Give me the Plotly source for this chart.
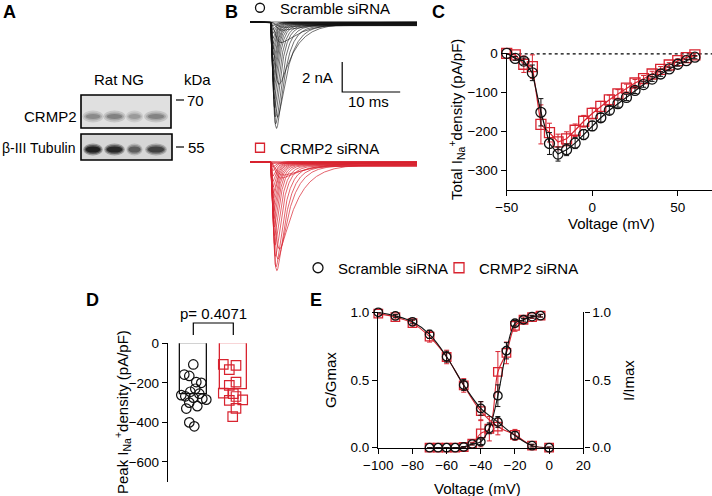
import numpy as np
import plotly.graph_objects as go

W, H = 712, 496
def fx(px): return px / W
def fy(py): return 1 - py / H

FONT = "Liberation Sans, Arial, sans-serif"
RED = "#d8232f"
BLACK = "#111111"

# ---------------- data ----------------
# Panel C: current-voltage relation (pA/pF)
iv_voltage = list(range(-50, 65, 5))
iv_scramble = [0, -13, -20, -50, -151, -231, -258, -247, -230, -208, -186, -165,
               -146, -129, -113, -95, -80, -66, -53, -40, -28, -19, -10]
iv_scramble_err = [2, 5, 8, 20, 35, 28, 18, 15, 14, 13, 12, 11, 10, 9, 8, 8, 7, 6, 6, 5, 5, 4, 4]
iv_crmp2 = [0, -4, -28, -34, -182, -203, -227, -219, -197, -174, -154, -136,
            -119, -104, -89, -76, -65, -53, -41, -30, -19, -11, -4]
iv_crmp2_err = [2, 5, 21, 30, 50, 24, 20, 18, 16, 15, 14, 13, 12, 11, 10, 9, 8, 7, 7, 6, 5, 5, 4]

# Panel B: example sweeps (kinetics per test potential, ms) and cell capacitance (pF)
sweep_tau_m = [0.9, 0.8, 0.7, 0.62, 0.55, 0.5, 0.45, 0.4, 0.36, 0.33, 0.3, 0.28,
               0.26, 0.25, 0.24, 0.23, 0.22, 0.21, 0.2, 0.2, 0.19, 0.19, 0.18]
sweep_tau_h = [7.0, 6.0, 5.0, 4.0, 2.6, 1.8, 1.4, 1.2, 1.05, 0.95, 0.85, 0.78,
               0.72, 0.68, 0.64, 0.6, 0.57, 0.55, 0.53, 0.52, 0.5, 0.5, 0.5]
sweep_persistent_scramble = 0.012
sweep_persistent_crmp2 = 0.016
cm_scramble_pF = 27.5
cm_crmp2_pF = 32.0
step_onset_ms = 3.5
trace_duration_ms = 28.8
scale_bar_nA = 2
scale_bar_ms = 10

# Panel D: peak current density (pA/pF)
peak_groups = ["Scramble siRNA", "CRMP2 siRNA"]
peak_means = [-258, -235]
peak_scramble = [-107, -158, -165, -196, -200, -230, -245, -255, -262, -268, -275,
                 -280, -285, -300, -318, -330, -400, -420]
peak_scramble_jitter = [0, -9, -4, 3, 8, 2, -3, 6, -12, -8, 0, 9, 13, -4, 4, -7, -4, 1]
peak_crmp2 = [-107, -112, -133, -196, -213, -252, -255, -269, -286, -289, -329, -371]
peak_crmp2_jitter = [-10, 2.7, -4, 2.7, -4, -10, 0, 2.7, 9.4, -4, 2.7, -0.6]
p_value_text = "p= 0.4071"

# Panel E: activation (G/Gmax) and steady-state inactivation (I/Imax)
act_voltage = list(range(-70, 0, 5))
act_scramble = [0, 0, 0, 0, 0.005, 0.027, 0.044, 0.143, 0.384, 0.716, 0.919, 0.945, 0.968, 0.975]
act_scramble_err = [0, 0, 0, 0, 0.003, 0.006, 0.02, 0.04, 0.08, 0.06, 0.02, 0.01, 0.01, 0.01]
act_crmp2 = [0, 0, 0, 0, 0.005, 0.03, 0.106, 0.14, 0.56, 0.70, 0.90, 0.945, 0.965, 0.975]
act_crmp2_err = [0, 0, 0, 0, 0.003, 0.01, 0.1, 0.09, 0.15, 0.08, 0.04, 0.02, 0.01, 0.01]
inact_voltage = list(range(-100, 10, 10))
inact_scramble = [1.0, 0.973, 0.93, 0.837, 0.672, 0.463, 0.29, 0.19, 0.089, 0.015, 0.0]
inact_scramble_err = [0.005, 0.01, 0.015, 0.03, 0.04, 0.04, 0.05, 0.04, 0.03, 0.01, 0.005]
inact_crmp2 = [0.99, 0.965, 0.92, 0.82, 0.67, 0.46, 0.27, 0.155, 0.095, 0.015, 0.0]
inact_crmp2_err = [0.01, 0.015, 0.02, 0.04, 0.05, 0.05, 0.07, 0.06, 0.04, 0.01, 0.005]

# Panel A: western blot band intensities (0..1)
crmp2_band_intensity = [0.55, 0.62, 0.42, 0.6]
tubulin_band_intensity = [1.0, 0.92, 0.52, 0.7]
blot_lane_label = "Rat NG"

fig = go.Figure()

# ---------------- Panel B: sweeps ----------------
t = np.linspace(0, trace_duration_ms, 1400)
def sweep(amp_nA, tm, th, persist):
    tt = np.clip(t - step_onset_ms, 0, None)
    act = (1 - np.exp(-tt / tm)) ** 3
    g = act * ((1 - persist) * np.exp(-tt / th) + persist)
    m = g.max()
    if m > 0:
        g = g / m
    return -amp_nA * g

for dens, tm, th in zip(iv_scramble, sweep_tau_m, sweep_tau_h):
    fig.add_trace(go.Scatter(x=t, y=sweep(-dens * cm_scramble_pF / 1000, tm, th, sweep_persistent_scramble),
                             mode="lines", line=dict(color=BLACK, width=0.6),
                             xaxis="x", yaxis="y", showlegend=False, hoverinfo="skip"))
for dens, tm, th in zip(iv_crmp2, sweep_tau_m, sweep_tau_h):
    fig.add_trace(go.Scatter(x=t, y=sweep(-dens * cm_crmp2_pF / 1000, tm, th * 1.15, sweep_persistent_crmp2),
                             mode="lines", line=dict(color=RED, width=0.7),
                             xaxis="x2", yaxis="y2", showlegend=False, hoverinfo="skip"))

# legends for panel B
fig.add_trace(go.Scatter(x=[None], y=[None], mode="markers", name="Scramble siRNA",
                         marker=dict(symbol="circle-open", size=9, color=BLACK, line=dict(width=1.3)),
                         legend="legend2", xaxis="x", yaxis="y"))
fig.add_trace(go.Scatter(x=[None], y=[None], mode="markers", name="CRMP2 siRNA",
                         marker=dict(symbol="square-open", size=9, color=RED, line=dict(width=1.3)),
                         legend="legend3", xaxis="x", yaxis="y"))

# ---------------- Panel C: I-V ----------------
fig.add_trace(go.Scatter(x=iv_voltage, y=iv_crmp2, mode="lines+markers",
                         line=dict(color=RED, width=1.2),
                         marker=dict(symbol="square-open", size=10, color=RED, line=dict(width=1.3)),
                         error_y=dict(type="data", array=iv_crmp2_err, color=RED, thickness=1, width=2.5),
                         xaxis="x3", yaxis="y3", showlegend=False, cliponaxis=False))
fig.add_trace(go.Scatter(x=iv_voltage, y=iv_scramble, mode="lines+markers",
                         line=dict(color=BLACK, width=1.2),
                         marker=dict(symbol="circle-open", size=10, color=BLACK, line=dict(width=1.3)),
                         error_y=dict(type="data", array=iv_scramble_err, color=BLACK, thickness=1, width=2.5),
                         xaxis="x3", yaxis="y3", showlegend=False, cliponaxis=False))

# main legend
fig.add_trace(go.Scatter(x=[None], y=[None], mode="markers", name="Scramble siRNA",
                         marker=dict(symbol="circle-open", size=10, color=BLACK, line=dict(width=1.3)),
                         legend="legend", xaxis="x3", yaxis="y3"))
fig.add_trace(go.Scatter(x=[None], y=[None], mode="markers", name="CRMP2 siRNA",
                         marker=dict(symbol="square-open", size=10, color=RED, line=dict(width=1.3)),
                         legend="legend4", xaxis="x3", yaxis="y3"))

# ---------------- Panel D: peak density ----------------
px_per_unit_D = 40.0
fig.add_trace(go.Bar(x=[0, 1], y=peak_means, width=0.67,
                     marker=dict(color="rgba(255,255,255,0)", line=dict(color=[BLACK, RED], width=1.3)),
                     xaxis="x4", yaxis="y4", showlegend=False))
fig.add_trace(go.Scatter(x=[0 + j / px_per_unit_D for j in peak_scramble_jitter], y=peak_scramble,
                         mode="markers",
                         marker=dict(symbol="circle-open", size=9.5, color=BLACK, line=dict(width=1.2)),
                         xaxis="x4", yaxis="y4", showlegend=False, cliponaxis=False))
fig.add_trace(go.Scatter(x=[1 + j / px_per_unit_D for j in peak_crmp2_jitter], y=peak_crmp2,
                         mode="markers",
                         marker=dict(symbol="square-open", size=9.5, color=RED, line=dict(width=1.2)),
                         xaxis="x4", yaxis="y4", showlegend=False, cliponaxis=False))

# ---------------- Panel E: activation / inactivation ----------------
def e_trace(x, y, err, color, symbol, yaxis):
    return go.Scatter(x=x, y=y, mode="lines+markers", line=dict(color=color, width=1.1, shape="spline"),
                      marker=dict(symbol=symbol, size=8.5, color=color, line=dict(width=1.3)),
                      error_y=dict(type="data", array=err, color=color, thickness=1, width=2.5),
                      xaxis="x5", yaxis=yaxis, showlegend=False, cliponaxis=False)

fig.add_trace(e_trace(inact_voltage, inact_crmp2, inact_crmp2_err, RED, "square-open", "y6"))
fig.add_trace(e_trace(inact_voltage, inact_scramble, inact_scramble_err, BLACK, "circle-open", "y6"))
fig.add_trace(e_trace(act_voltage, act_crmp2, act_crmp2_err, RED, "square-open", "y5"))
fig.add_trace(e_trace(act_voltage, act_scramble, act_scramble_err, BLACK, "circle-open", "y5"))

# ---------------- axes ----------------
tickfont = dict(family=FONT, size=13.5, color="black")
axis_common = dict(showline=True, linecolor="black", linewidth=1.4, ticks="outside",
                   ticklen=5, tickwidth=1.4, tickcolor="black", showgrid=False,
                   zeroline=False, tickfont=tickfont, automargin=False)

layout = dict(
    width=W, height=H, margin=dict(l=0, r=0, t=0, b=0, pad=0, autoexpand=False),
    paper_bgcolor="white", plot_bgcolor="rgba(0,0,0,0)",
    font=dict(family=FONT, size=15, color="black"),
    bargap=0,
    xaxis=dict(domain=[fx(250), fx(417)], range=[0, trace_duration_ms], visible=False, anchor="y"),
    yaxis=dict(domain=[fy(140), fy(10)], range=[-118 / 15, 12 / 15], visible=False, anchor="x"),
    xaxis2=dict(domain=[fx(250), fx(417)], range=[0, trace_duration_ms], visible=False, anchor="y2"),
    yaxis2=dict(domain=[fy(280), fy(150)], range=[-(280 - 161.7) / 15, 11.7 / 15], visible=False, anchor="x2"),
    xaxis3=dict(domain=[fx(506.7), 1.0], range=[-50, 70], tickvals=[-50, 0, 50], anchor="y3", **axis_common),
    yaxis3=dict(domain=[fy(190), fy(53.3)], range=[-350, 0], tickvals=[0, -100, -200, -300], anchor="x3", **axis_common),
    xaxis4=dict(domain=[fx(168), fx(252)], range=[(168 - 193.3) / 40, (252 - 193.3) / 40], visible=False, anchor="y4"),
    yaxis4=dict(domain=[fy(481.7), fy(343.3)], range=[-700, 0], tickvals=[0, -200, -400, -600], anchor="x4", **axis_common),
    xaxis5=dict(domain=[fx(378.3), fx(583.3)], range=[-100, 20], tickvals=list(range(-100, 30, 20)), anchor="y5", **axis_common),
    yaxis5=dict(domain=[fy(447.7), fy(312.3)], range=[0, 1], tickvals=[0, 0.5, 1.0], tickformat=".1f", anchor="x5", **axis_common),
    yaxis6=dict(domain=[fy(447.7), fy(312.3)], range=[0, 1], tickvals=[0, 0.5, 1.0], tickformat=".1f",
                anchor="x5", overlaying="y5", side="right", **axis_common),
)

legend_common = dict(orientation="h", xanchor="left", yanchor="middle", bgcolor="rgba(0,0,0,0)",
                     borderwidth=0, font=dict(family=FONT, size=15, color="black"), itemwidth=30,
                     itemclick=False, itemdoubleclick=False)
layout["legend"] = dict(x=fx(298), y=fy(268), **legend_common)
layout["legend4"] = dict(x=fx(439), y=fy(268), **legend_common)
layout["legend2"] = dict(x=fx(240), y=fy(8), **legend_common)
layout["legend3"] = dict(x=fx(240), y=fy(148), **legend_common)
fig.update_layout(**layout)

# ---------------- annotations ----------------
ann = []
def text(px, py, s, size=15, bold=False, angle=0, xanchor="center"):
    ann.append(dict(x=fx(px), y=fy(py), xref="paper", yref="paper", text=("<b>%s</b>" % s) if bold else s,
                    showarrow=False, textangle=angle, xanchor=xanchor, yanchor="middle",
                    font=dict(family=FONT, size=size, color="black")))

# panel letters
text(9, 12, "A", 18, True)
text(231, 12, "B", 18, True)
text(438, 12, "C", 18, True)
text(92, 300, "D", 18, True)
text(316, 300, "E", 18, True)

# panel A labels
text(119, 79, blot_lane_label)
text(197, 79, "kDa")
text(79, 117, "CRMP2", xanchor="right")
text(0, 148, "β-III Tubulin", size=14, xanchor="left")
text(185, 100, "70", xanchor="left")
text(186, 147, "55", xanchor="left")

# panel B scale bar labels
text(335, 77, "%d nA" % scale_bar_nA, xanchor="right")
text(368, 101, "%d ms" % scale_bar_ms)

# axis titles
text(456, 120, "Total I<sub>Na</sub><sup>+</sup>density (pA/pF)", angle=-90)
text(611, 223, "Voltage (mV)")
text(122, 412, "Peak I<sub>Na</sub><sup>+</sup>density (pA/pF)", angle=-90)
text(330, 380, "G/Gmax", angle=-90)
text(628, 381, "I/Imax", angle=-90)
text(477, 488, "Voltage (mV)")

# p value
ann.append(dict(x=0.5, y=fy(313), xref="x4", yref="paper", text=p_value_text, showarrow=False,
                xanchor="center", yanchor="middle", font=dict(family=FONT, size=15, color="black")))
fig.update_layout(annotations=ann)

# ---------------- shapes ----------------
shapes = []
# zero reference line in C
shapes.append(dict(type="line", xref="x3", yref="y3", x0=-50, x1=70, y0=0, y1=0,
                   line=dict(color="black", width=2.2, dash="dot"), layer="below"))
# scale bar in B (data units of black sweeps)
sb_t0 = 15.9
sb_y0 = -40 / 15
shapes.append(dict(type="path", xref="x", yref="y",
                   path="M %f %f L %f %f L %f %f" % (sb_t0, sb_y0, sb_t0, sb_y0 - scale_bar_nA,
                                                     sb_t0 + scale_bar_ms, sb_y0 - scale_bar_nA),
                   line=dict(color="black", width=1.2)))
# significance bracket in D
shapes.append(dict(type="path", xref="x4", yref="paper",
                   path="M 0 %f L 0 %f L 1 %f L 1 %f" % (fy(335), fy(323), fy(323), fy(335)),
                   line=dict(color="black", width=1.2)))

# western blot (panel A)
def px_rect(x0, y0, x1, y1, **kw):
    d = dict(type="rect", xref="paper", yref="paper", x0=fx(x0), x1=fx(x1), y0=fy(y1), y1=fy(y0))
    d.update(kw)
    return d

shapes.append(px_rect(81, 95, 171, 128, fillcolor="#e0e0e0", line=dict(color="black", width=1.6)))
shapes.append(px_rect(81, 134, 172, 160, fillcolor="#d6d6d6", line=dict(color="black", width=1.6)))
lane_x = [93, 114.5, 134.5, 156]
lane_w = [17, 18, 14, 19]
for cx, w, inten in zip(lane_x, lane_w, crmp2_band_intensity):
    for k, (sx, sy, op) in enumerate([(1.25, 2.4, 0.25), (1.05, 1.6, 0.35), (0.85, 1.0, 0.5)]):
        shapes.append(dict(type="circle", xref="paper", yref="paper",
                           x0=fx(cx - w / 2 * sx), x1=fx(cx + w / 2 * sx),
                           y0=fy(116.5 + 2.5 * sy), y1=fy(116.5 - 2.5 * sy),
                           fillcolor="rgba(50,50,50,%.3f)" % (op * inten), line=dict(width=0)))
for cx, w, inten in zip(lane_x, lane_w, tubulin_band_intensity):
    for k, (sx, sy, op) in enumerate([(1.15, 1.7, 0.3), (1.0, 1.25, 0.45), (0.85, 0.85, 0.7)]):
        shapes.append(dict(type="circle", xref="paper", yref="paper",
                           x0=fx(cx - w / 2 * sx), x1=fx(cx + w / 2 * sx),
                           y0=fy(149.5 + 3.6 * sy), y1=fy(149.5 - 3.6 * sy),
                           fillcolor="rgba(10,10,10,%.3f)" % (op * inten), line=dict(width=0)))
# marker ticks for kDa
shapes.append(dict(type="line", xref="paper", yref="paper", x0=fx(176), x1=fx(184), y0=fy(100), y1=fy(100),
                   line=dict(color="black", width=1.2)))
shapes.append(dict(type="line", xref="paper", yref="paper", x0=fx(176), x1=fx(184), y0=fy(147), y1=fy(147),
                   line=dict(color="black", width=1.2)))
fig.update_layout(shapes=shapes)

fig.write_html("out.html", config={"displayModeBar": False},
               post_script="document.body.style.margin='0px';document.body.style.overflow='hidden';")
